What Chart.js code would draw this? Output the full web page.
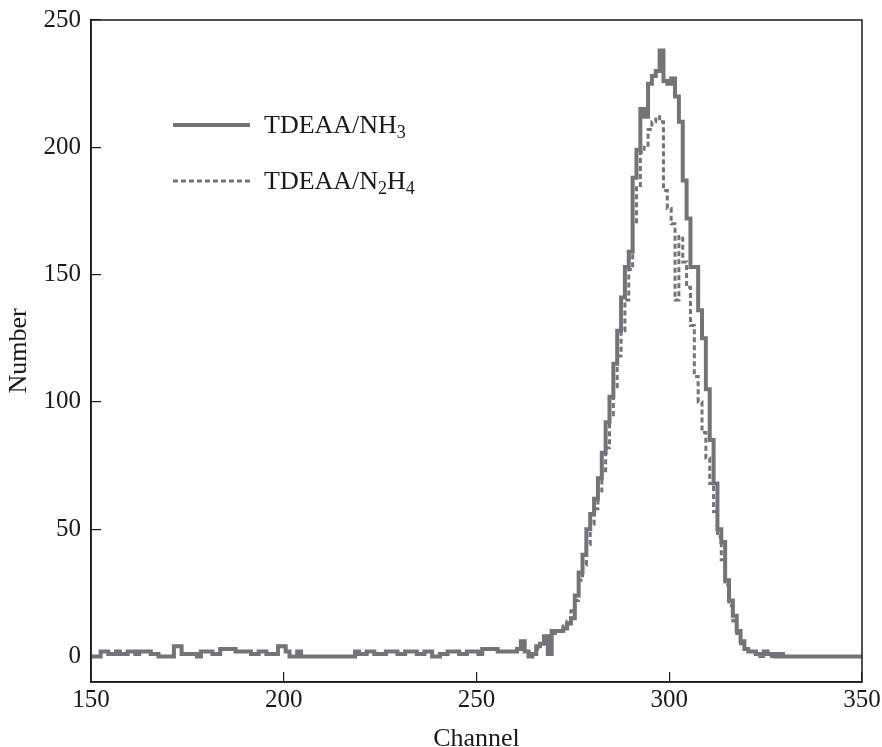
<!DOCTYPE html>
<html>
<head>
<meta charset="utf-8">
<script src="https://cdn.jsdelivr.net/npm/chart.js@4.4.1/dist/chart.umd.min.js"></script>
<style>
  html, body { margin: 0; padding: 0; background: #fff; }
  #wrap { width: 882px; height: 747px; }
</style>
</head>
<body>
<div id="wrap"><canvas id="chart" width="882" height="747"></canvas></div>
<script>
// Spectra per channel, channel 150 .. 350 (one value per channel)
const CHANNEL_START = 150;

const nh3Counts = [
  0, 0, 0, 2, 2, 1, 1, 2, 1, 1,         // 150
  2, 2, 1, 2, 2, 2, 1, 1, 0, 0,         // 160
  0, 0, 4, 4, 1, 1, 1, 1, 0, 2,         // 170
  2, 2, 1, 1, 3, 3, 3, 3, 2, 2,         // 180
  2, 2, 1, 1, 2, 2, 1, 1, 1, 4,         // 190
  4, 2, 0, 0, 2, 0, 0, 0, 0, 0,         // 200
  0, 0, 0, 0, 0, 0, 0, 0, 0, 2,         // 210
  1, 1, 2, 2, 1, 1, 1, 2, 2, 2,         // 220
  1, 1, 2, 2, 2, 1, 1, 2, 2, 0,         // 230
  0, 1, 1, 2, 2, 2, 1, 1, 2, 2,         // 240
  2, 1, 3, 3, 3, 3, 2, 2, 2, 2,         // 250
  2, 3, 6, 2, 0, 1, 4, 5, 8, 1,         // 260
  10, 10, 10, 11, 13, 15, 24, 33, 40, 50,            // 270
  56, 62, 70, 80, 92, 102, 115, 128, 141, 153,       // 280
  159, 188, 199, 215, 212, 225, 228, 230, 238, 226,  // 290
  225, 227, 220, 210, 187, 172, 153, 153, 136, 125,  // 300
  105, 85, 68, 50, 45, 30, 22, 16, 10, 6,            // 310
  3, 2, 2, 1, 1, 2, 1, 1, 0, 1,         // 320
  0, 0, 0, 0, 0, 0, 0, 0, 0, 0,         // 330
  0, 0, 0, 0, 0, 0, 0, 0, 0, 0,         // 340
  0                                     // 350
];

const n2h4Counts = [
  0, 0, 0, 2, 2, 1, 1, 2, 1, 1,         // 150
  2, 2, 1, 2, 2, 2, 1, 1, 0, 0,         // 160
  0, 0, 4, 4, 1, 1, 1, 1, 0, 2,         // 170
  2, 2, 1, 1, 3, 3, 3, 3, 2, 2,         // 180
  2, 2, 1, 1, 2, 2, 1, 1, 1, 4,         // 190
  4, 2, 0, 0, 2, 0, 0, 0, 0, 0,         // 200
  0, 0, 0, 0, 0, 0, 0, 0, 0, 2,         // 210
  1, 1, 2, 2, 1, 1, 1, 2, 2, 2,         // 220
  1, 1, 2, 2, 2, 1, 1, 2, 2, 0,         // 230
  0, 1, 1, 2, 2, 2, 1, 1, 2, 2,         // 240
  2, 1, 3, 3, 3, 3, 2, 2, 2, 2,         // 250
  2, 3, 6, 2, 0, 1, 3, 5, 6, 8,         // 260
  9, 10, 11, 12, 14, 18, 22, 30, 36, 44,             // 270
  52, 58, 65, 73, 82, 95, 106, 118, 128, 140,        // 280
  152, 170, 185, 198, 200, 207, 210, 212, 210, 183,  // 290
  176, 170, 140, 165, 155, 145, 130, 110, 100, 88,   // 300
  78, 68, 57, 47, 38, 28, 20, 14, 9, 5,              // 310
  3, 2, 1, 1, 0, 1, 1, 0, 0, 1,         // 320
  0, 0, 0, 0, 0, 0, 0, 0, 0, 0,         // 330
  0, 0, 0, 0, 0, 0, 0, 0, 0, 0,         // 340
  0                                     // 350
];

const xTickValues = [150, 200, 250, 300, 350];
const yTickValues = [0, 50, 100, 150, 200, 250];
const seriesLabels = ["TDEAA/NH₃", "TDEAA/N₂H₄"];

const channels = nh3Counts.map((_, i) => CHANNEL_START + i);

const FONT = '"Liberation Serif", "Times New Roman", serif';
const INK = "#1a1a1a";
const GREY = "#737478";

// Box round the plot (top and right edges too)
const framePlugin = {
  id: "frame",
  afterDraw(chart) {
    const { ctx, chartArea: a } = chart;
    ctx.save();
    ctx.strokeStyle = INK;
    ctx.lineWidth = 1.5;
    ctx.strokeRect(a.left, a.top, a.right - a.left, a.bottom - a.top);
    ctx.restore();
  },
};

// Legend inside the plot, subscripts drawn smaller and lower
const SUBS = { "₀": "0", "₁": "1", "₂": "2", "₃": "3", "₄": "4", "₅": "5" };

function drawRich(ctx, text, x, y, size) {
  let cx = x;
  for (const ch of text) {
    const sub = SUBS[ch];
    const t = sub || ch;
    ctx.font = (sub ? Math.round(size * 0.68) : size) + "px " + FONT;
    ctx.fillText(t, cx, sub ? y + size * 0.2 : y);
    cx += ctx.measureText(t).width;
  }
}

const legendPlugin = {
  id: "insideLegend",
  afterDraw(chart) {
    const { ctx, chartArea: a } = chart;
    const rows = [105, 161];
    ctx.save();
    chart.data.datasets.forEach((ds, i) => {
      const y = a.top + rows[i];
      ctx.beginPath();
      ctx.strokeStyle = ds.borderColor;
      ctx.lineWidth = ds.borderWidth;
      ctx.setLineDash(ds.borderDash || []);
      ctx.lineCap = "butt";
      ctx.moveTo(a.left + 82, y);
      ctx.lineTo(a.left + 159, y);
      ctx.stroke();
      ctx.setLineDash([]);
      ctx.fillStyle = INK;
      ctx.textBaseline = "alphabetic";
      drawRich(ctx, ds.label, a.left + 173, y + 8, 26);
    });
    ctx.restore();
  },
};

function init() {
  const canvas = document.getElementById("chart");
  if (!canvas || !window.Chart) return;

  new Chart(canvas, {
    type: "line",
    data: {
      datasets: [
        {
          label: seriesLabels[0],
          data: channels.map((c, i) => ({ x: c, y: nh3Counts[i] })),
          borderColor: GREY,
          borderWidth: 4,
          stepped: "middle",
          pointRadius: 0,
          fill: false,
          borderJoinStyle: "miter",
        },
        {
          label: seriesLabels[1],
          data: channels.map((c, i) => ({ x: c, y: n2h4Counts[i] })),
          borderColor: GREY,
          borderWidth: 3,
          borderDash: [5, 3],
          stepped: "middle",
          pointRadius: 0,
          fill: false,
          borderJoinStyle: "miter",
        },
      ],
    },
    options: {
      responsive: false,
      animation: false,
      devicePixelRatio: 1,
      layout: { padding: { top: 20, right: 20, left: 0, bottom: 0 } },
      plugins: { legend: { display: false }, tooltip: { enabled: false } },
      scales: {
        x: {
          type: "linear",
          min: 150,
          max: 350,
          afterBuildTicks: (s) => { s.ticks = xTickValues.map((v) => ({ value: v })); },
          afterFit: (s) => { s.height = 65; s.paddingLeft = 0; s.paddingRight = 0; },
          grid: { drawOnChartArea: false, drawTicks: true, tickLength: -10, color: INK, lineWidth: 1.2 },
          border: { display: true, color: INK, width: 1.5 },
          ticks: { color: INK, font: { family: FONT, size: 25 }, padding: 13, maxRotation: 0, autoSkip: false },
          title: { display: true, text: "Channel", color: INK, font: { family: FONT, size: 26 }, padding: { top: 0, bottom: -8 } },
        },
        y: {
          min: -10,
          max: 250,
          afterBuildTicks: (s) => { s.ticks = yTickValues.map((v) => ({ value: v })); },
          afterFit: (s) => { s.width = 91; s.paddingTop = 0; s.paddingBottom = 0; },
          grid: { drawOnChartArea: false, drawTicks: true, tickLength: -10, color: INK, lineWidth: 1.2 },
          border: { display: true, color: INK, width: 1.5 },
          ticks: { color: INK, font: { family: FONT, size: 25 }, padding: 20, autoSkip: false },
          title: { display: true, text: "Number", color: INK, font: { family: FONT, size: 26 }, padding: { top: 4, bottom: 0 } },
        },
      },
    },
    plugins: [framePlugin, legendPlugin],
  });
}

if (document.readyState === "loading") {
  document.addEventListener("DOMContentLoaded", init);
} else {
  init();
}
</script>
</body>
</html>
